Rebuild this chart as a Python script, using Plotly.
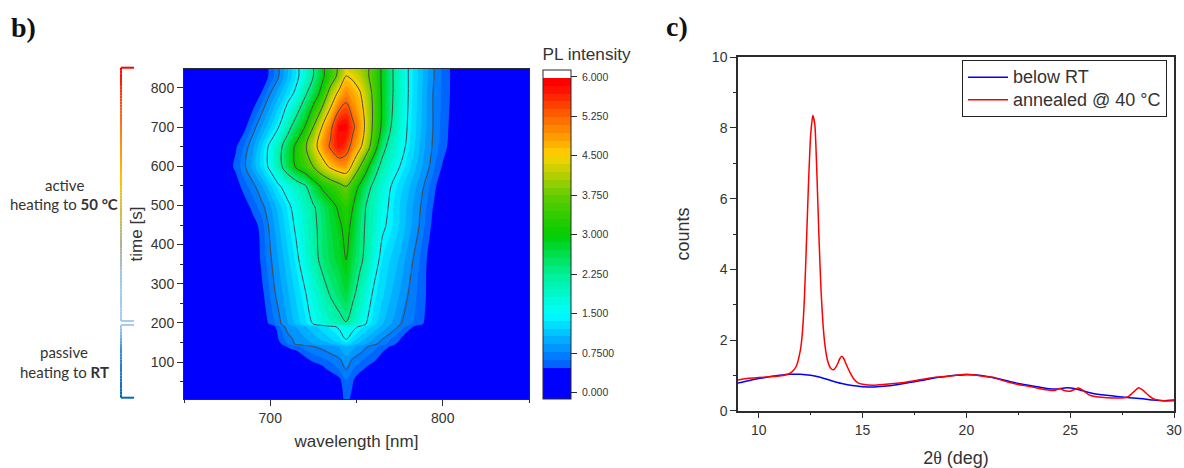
import plotly.graph_objects as go

W, H = 1184, 468

# ---------- panel b data: PL intensity ----------
WAVELENGTH = [650,675,680,685,690,695,700,705,710,715,720,725,730,735,740,744,748,752,756,760,765,770,775,780,785,790,795,800,805,810,850]
TIME = [5,54,80,105,140,146,158,190,197,203,275,361,446,497,549,599,650,701,786,830,850]
PL = [
 [0,0,0,0,0,0,0,0,0,0,0,0,0,.10,.35,.56,.40,.20,.05,0,0,0,0,0,0,0,0,0,0,0,0],
 [0,0,0,0,0,0,0,0,0,0,0,0,.10,.25,.43,.62,.49,.30,.15,.05,0,0,0,0,0,0,0,0,0,0,0],
 [0,0,0,0,0,0,0,0,0,0,.10,.25,.38,.53,.62,.75,.62,.53,.42,.30,.15,.05,0,0,0,0,0,0,0,0,0],
 [0,0,0,0,0,0,0,0,.05,.20,.40,.53,.59,.65,.72,.85,.72,.65,.58,.52,.35,.15,.05,0,0,0,0,0,0,0,0],
 [0,0,0,0,0,0,.10,.30,.51,.60,.69,.75,.80,.87,.95,1.08,.98,.87,.77,.68,.58,.46,.30,.10,0,0,0,0,0,0,0],
 [0,0,0,0,0,0,.15,.42,.62,.78,.85,.92,.98,1.05,1.15,1.30,1.15,1.03,.92,.80,.68,.57,.40,.20,.05,0,0,0,0,0,0],
 [0,0,0,0,0,0,.20,.49,.68,.80,.90,1.0,1.1,1.2,1.33,1.50,1.30,1.15,1.03,.90,.75,.62,.49,.25,.10,0,0,0,0,0,0],
 [0,0,0,0,0,.10,.30,.60,.82,.93,1.05,1.17,1.29,1.41,1.55,1.70,1.60,1.45,1.30,1.18,1.03,.87,.72,.58,.40,.15,0,0,0,0,0],
 [0,0,0,0,.08,.28,.52,.70,.90,1.10,1.30,1.50,1.70,1.88,2.03,2.12,1.93,1.70,1.47,1.27,1.08,.92,.77,.66,.56,.44,.14,.03,0,0,0],
 [0,0,0,0,.10,.30,.55,.71,.92,1.13,1.33,1.55,1.76,1.95,2.12,2.25,2.0,1.75,1.5,1.30,1.10,.95,.78,.68,.58,.45,.15,.03,0,0,0],
 [0,0,0,.03,.15,.42,.64,.83,1.04,1.25,1.46,1.74,2.02,2.30,2.50,2.70,2.35,2.05,1.75,1.43,1.25,1.08,.92,.75,.62,.49,.20,.05,0,0,0],
 [0,0,0,.05,.25,.52,.72,.94,1.17,1.41,1.70,2.05,2.38,2.60,2.80,3.0,2.65,2.35,2.10,1.72,1.36,1.20,1.05,.85,.67,.52,.20,.05,0,0,0],
 [0,0,0,.10,.35,.56,.80,1.05,1.30,1.56,1.85,2.13,2.42,2.70,2.92,3.15,2.87,2.44,2.16,1.93,1.56,1.40,1.20,1.0,.80,.60,.40,.20,.05,0,0],
 [0,0,.10,.35,.56,.69,.90,1.15,1.40,1.66,1.93,2.20,2.50,2.81,3.10,3.30,3.0,2.57,2.19,1.96,1.67,1.42,1.22,1.03,.83,.65,.45,.25,.10,0,0],
 [0,.10,.35,.58,.69,.91,1.18,1.45,1.69,1.92,2.16,2.68,3.09,3.33,3.56,3.75,3.32,2.90,2.46,2.13,1.81,1.50,1.30,1.11,.91,.71,.53,.30,.15,0,0],
 [0,.35,.53,.71,.98,1.27,1.59,2.06,2.57,3.07,3.41,3.75,4.22,4.60,4.85,4.88,4.35,3.75,3.15,2.55,2.08,1.79,1.50,1.28,1.06,.84,.64,.45,.25,.10,0],
 [0,.20,.45,.64,.89,1.23,1.59,2.06,2.57,3.11,3.64,4.25,4.82,5.34,5.77,5.50,5.04,4.61,4.05,3.37,2.44,2.0,1.69,1.40,1.15,.90,.70,.55,.40,.20,0],
 [0,.05,.20,.42,.66,.92,1.20,1.50,2.03,2.53,3.0,3.75,4.50,5.12,5.85,5.90,5.35,4.88,4.30,3.60,2.88,2.25,1.83,1.45,1.20,.95,.72,.58,.42,.20,0],
 [0,0,.05,.15,.30,.49,.75,1.02,1.29,1.60,2.14,2.62,3.19,4.05,4.67,5.0,4.78,4.55,4.12,3.60,2.90,2.35,1.92,1.50,1.23,.96,.72,.60,.45,.20,0],
 [0,0,0,.05,.15,.30,.53,.75,1.06,1.37,1.78,2.25,2.87,3.37,3.95,4.52,4.40,4.20,3.85,3.50,2.90,2.35,1.92,1.50,1.25,1.0,.75,.60,.45,.20,0],
 [0,0,0,.05,.15,.30,.53,.75,1.06,1.37,1.78,2.25,2.87,3.37,3.85,4.30,4.20,4.05,3.85,3.50,2.90,2.35,1.92,1.50,1.25,1.0,.75,.60,.45,.20,0],
]
BAR_TICKS = [0, .75, 1.5, 2.25, 3, 3.75, 4.5, 5.25, 6]
BAR_LABELS = ["0.000", "0.7500", "1.500", "2.250", "3.000", "3.750", "4.500", "5.250", "6.000"]
BAR_BOTTOM, BAR_TOP, BAR_BANDS = -0.12, 6.13, 42
SCALE_VALUES = [-0.12, 0.48, 0.48, 1.5, 2.25, 3.0, 3.75, 4.5, 5.25, 5.85, 5.97, 5.98]
SCALE_COLORS = ["#0000ff", "#0000ff", "#005aff", "#00ffff", "#00f096", "#00cd00", "#64cd00",
                "#ffd200", "#ff6400", "#ff0000", "#ff0000", "#ffffff"]

# ---------- panel c data ----------
X_BELOW = [9,9.5,10,10.5,11,11.5,12,12.5,13,13.5,14,14.5,15,15.5,16,16.5,17,17.5,18,18.5,19,19.5,20,20.5,21,21.5,22,22.5,23,23.5,24,24.5,24.8,25.2,25.5,26,26.5,27,27.5,28,28.5,29,29.5,30]
Y_BELOW = [.78,.85,.91,.96,1.0,1.03,1.03,1.0,.94,.85,.77,.71,.68,.67,.69,.72,.77,.82,.87,.93,.97,1.0,1.02,1.01,.97,.91,.84,.77,.72,.67,.62,.62,.65,.63,.58,.50,.45,.42,.39,.36,.34,.30,.28,.30]
X_ANNEALED = [9,9.5,10,10.5,11,11.4,11.6,11.8,12,12.1,12.2,12.3,12.4,12.5,12.6,12.7,12.8,12.9,13,13.1,13.2,13.3,13.4,13.5,13.6,13.7,13.8,13.9,14,14.1,14.2,14.4,14.6,14.8,15,15.5,16,16.5,17,17.5,18,18.5,19,19.5,20,20.5,21,21.3,21.5,22,22.5,23,23.5,24,24.3,24.5,24.7,25,25.2,25.4,25.6,25.9,26.2,26.5,27,27.5,27.8,28,28.3,28.5,28.8,29,29.5,30]
Y_ANNEALED = [.87,.92,.94,.96,.98,1.03,1.10,1.25,1.70,2.2,3.2,4.8,6.5,7.8,8.35,8.1,6.7,4.9,3.4,2.4,1.8,1.45,1.27,1.18,1.16,1.22,1.33,1.47,1.54,1.47,1.33,1.08,.88,.78,.75,.72,.74,.77,.80,.85,.90,.95,.97,1.0,1.03,1.0,.96,.95,.90,.81,.74,.69,.63,.58,.58,.63,.57,.55,.60,.64,.58,.45,.40,.38,.36,.36,.40,.50,.65,.58,.42,.34,.28,.28]
SERIES_NAMES = ["below RT", "annealed @ 40 °C"]

# ---------- decoration ----------
BRACKET_TOP = [(67.7, (255, 0, 0)), (120, (255, 110, 30)), (180, (255, 195, 0)), (245, (170, 180, 150)), (280, (160, 200, 235)), (321, (165, 205, 240))]
BRACKET_LOW = [(325, (165, 205, 240)), (350, (60, 140, 215)), (397.7, (0, 105, 190))]

INK = "#333333"
AX = "#2b2b2b"
SANS = "Liberation Sans, Arial, sans-serif"


def px(x):
    return x / W


def py(y):
    return 1 - y / H


band = (BAR_TOP - BAR_BOTTOM) / BAR_BANDS
scale_hi = SCALE_VALUES[-1]
colorscale = [[(v - BAR_BOTTOM) / (scale_hi - BAR_BOTTOM), c] for v, c in zip(SCALE_VALUES, SCALE_COLORS)]

fig = go.Figure()
fig.add_trace(go.Contour(
    x=WAVELENGTH, y=TIME, z=PL, xaxis="x", yaxis="y",
    zmin=BAR_BOTTOM, zmax=BAR_TOP, colorscale=colorscale, autocontour=False,
    contours=dict(start=BAR_BOTTOM, end=BAR_TOP - band + 1e-6, size=band, coloring="fill", showlines=False),
    line=dict(width=0), hoverinfo="skip",
    colorbar=dict(
        x=px(543), xanchor="left", y=py(399), yanchor="bottom",
        thickness=28, thicknessmode="pixels", len=354, lenmode="pixels",
        xpad=0, ypad=0, outlinecolor=AX, outlinewidth=1,
        tickmode="array", tickvals=BAR_TICKS, ticktext=["\u00a0" + t for t in BAR_LABELS],
        ticks="outside", ticklen=6, tickcolor=AX, tickwidth=1,
        tickfont=dict(family=SANS, size=10.5, color=INK),
        title=dict(text="PL intensity", side="top", font=dict(family=SANS, size=17.2, color=INK)),
    ),
))
fig.add_trace(go.Contour(
    x=WAVELENGTH, y=TIME, z=PL, xaxis="x", yaxis="y", showscale=False,
    autocontour=False, colorscale=[[0, "#4a4a4a"], [1, "#4a4a4a"]],
    contours=dict(start=.75, end=5.25, size=.75, coloring="lines"),
    line=dict(width=1, color="#4a4a4a"), hoverinfo="skip",
))


def legend_name(text):
    return '<span style="font-size:18px">%s</span>' % text


fig.add_trace(go.Scatter(x=X_BELOW, y=Y_BELOW, name=legend_name(SERIES_NAMES[0]), mode="lines",
                         line=dict(color="#0000ff", width=1.5, shape="spline", smoothing=0.5), xaxis="x2", yaxis="y2"))
fig.add_trace(go.Scatter(x=X_ANNEALED, y=Y_ANNEALED, name=legend_name(SERIES_NAMES[1]), mode="lines",
                         line=dict(color="#ff0000", width=1.5, shape="spline", smoothing=0.5), xaxis="x2", yaxis="y2"))


def axis(domain, rng, dtick, minor, title, title_size, standoff, anchor, width):
    return dict(
        domain=domain, range=rng, anchor=anchor, dtick=dtick, tick0=0,
        ticks="outside", ticklen=6, tickwidth=1, tickcolor=AX,
        minor=dict(dtick=minor, ticks="outside", ticklen=3, tickwidth=1, tickcolor=AX, showgrid=False),
        showline=True, linecolor=AX, linewidth=width, mirror=True,
        showgrid=False, zeroline=False,
        tickfont=dict(family=SANS, size=14, color=INK),
        title=dict(text=title, standoff=standoff, font=dict(family=SANS, size=title_size, color=INK)),
    )


shapes = []
for stops in (BRACKET_TOP, BRACKET_LOW):
    shapes.append(dict(type="line", xref="paper", yref="paper", x0=px(121), x1=px(134),
                       y0=py(stops[0][0]), y1=py(stops[0][0]),
                       line=dict(color="rgb(%d,%d,%d)" % stops[0][1], width=2)))
    shapes.append(dict(type="line", xref="paper", yref="paper", x0=px(121), x1=px(134),
                       y0=py(stops[-1][0]), y1=py(stops[-1][0]),
                       line=dict(color="rgb(%d,%d,%d)" % stops[-1][1], width=2)))
    for (y0, c0), (y1, c1) in zip(stops, stops[1:]):
        n = max(2, int((y1 - y0) / 3))
        for i in range(n):
            f = (i + .5) / n
            col = tuple(int(a + (b - a) * f) for a, b in zip(c0, c1))
            shapes.append(dict(type="line", xref="paper", yref="paper", x0=px(121), x1=px(121),
                               y0=py(y0 + (y1 - y0) * i / n), y1=py(y0 + (y1 - y0) * (i + 1) / n),
                               line=dict(color="rgb(%d,%d,%d)" % col, width=2)))


def note(x, y, text, size, family, color=INK):
    return dict(xref="paper", yref="paper", x=px(x), y=py(y), text=text, showarrow=False,
                xanchor="center", yanchor="middle", font=dict(family=family, size=size, color=color))


annotations = [
    note(23, 27, "<b>b)</b>", 28, "Liberation Serif", "#111111"),
    note(677, 26, "<b>c)</b>", 28, "Liberation Serif", "#111111"),
    note(64, 185, "active", 15, "Lato"),
    note(64, 204, "heating to <b>50 °C</b>", 15, "Lato"),
    note(64, 352, "passive", 15, "Lato"),
    note(64, 372, "heating to <b>RT</b>", 15, "Lato"),
]

fig.update_layout(
    width=W, height=H, autosize=False, margin=dict(l=0, r=0, t=0, b=0, autoexpand=False),
    paper_bgcolor="white", plot_bgcolor="white",
    xaxis=axis([px(184), px(529)], [650, 850], 100, 50, "wavelength [nm]", 17, 10, "y", 1),
    yaxis=axis([py(399), py(69)], [5.5, 848.5], 100, 50, "time [s]", 17, 3, "x", 1),
    xaxis2=axis([px(738), px(1174)], [9, 30], 5, 2.5, '2<span style="font-family:Liberation Serif">θ</span> (deg)', 18, 16, "y2", 1.5),
    yaxis2=axis([py(410.7), py(57.3)], [0, 10], 2, 1, "counts", 18, 18, "x2", 1.5),
    showlegend=True,
    legend=dict(x=px(1167), xanchor="right", y=py(60), yanchor="top",
                bgcolor="white", bordercolor="#222222", borderwidth=1,
                font=dict(family=SANS, size=15, color=INK),
                itemwidth=40, tracegroupgap=0),
    shapes=shapes, annotations=annotations,
)

fig.write_html("out.html", config={"displayModeBar": False}, post_script="document.body.style.margin='0';")
